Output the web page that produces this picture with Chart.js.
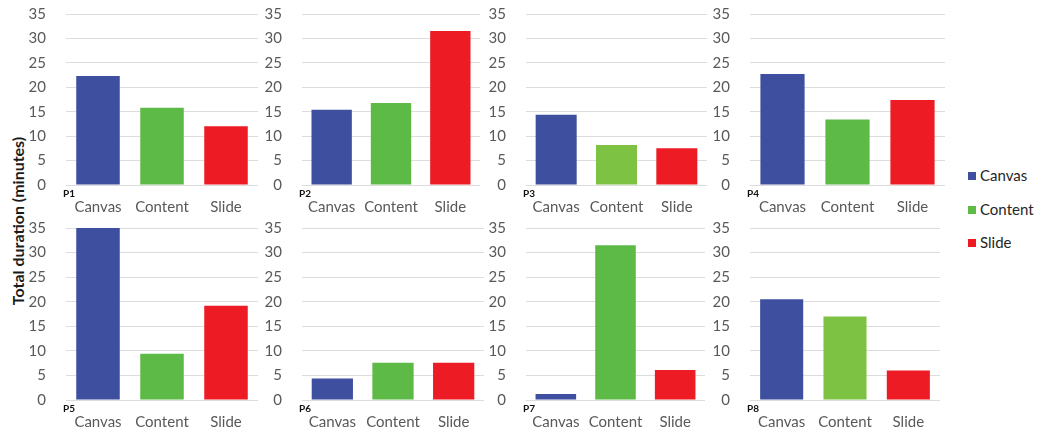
<!DOCTYPE html>
<html>
<head>
<meta charset="utf-8">
<script src="https://cdn.jsdelivr.net/npm/chart.js@4.4.1/dist/chart.umd.min.js"></script>
<style>
  body { margin: 0; background: #fff; }
  #wrap { position: relative; width: 1039px; height: 432px; overflow: hidden; }
  #wrap canvas { position: absolute; left: 0; top: -40px; }
  #ytitle {
    position: absolute; left: 17px; top: 221px;
    transform: translate(-50%, -50%) rotate(-90deg);
    font: bold 16px Lato, sans-serif; color: #1a1a1a; white-space: nowrap;
  }
  .leg { position: absolute; left: 968px; font: 15px Lato, sans-serif; color: #262626; line-height: 18px; }
  .leg span { display: inline-block; width: 8px; height: 8px; margin-right: 4px; vertical-align: 1px; }
</style>
</head>
<body>
<div id="wrap">
  <div id="ytitle">Total duration (minutes)</div>
  <div class="leg" style="top:166px"><span style="background:#3F4FA0"></span>Canvas</div>
  <div class="leg" style="top:200px"><span style="background:#5DBA47"></span>Content</div>
  <div class="leg" style="top:233px"><span style="background:#ED1C24"></span>Slide</div>
</div>
<script>
const categories = ['Canvas', 'Content', 'Slide'];
const participants = ['P1', 'P2', 'P3', 'P4', 'P5', 'P6', 'P7', 'P8'];
const yTicks = [0, 5, 10, 15, 20, 25, 30, 35];

const p1 = [22.3, 15.8, 12.0];
const p2 = [15.4, 16.8, 31.5];
const p3 = [14.4, 8.2, 7.5];
const p4 = [22.7, 13.4, 17.4];
const p5 = [35.0, 9.4, 19.2];
const p6 = [4.4, 7.6, 7.6];
const p7 = [1.2, 31.5, 6.1];
const p8 = [20.5, 17.0, 6.0];
const values = [p1, p2, p3, p4, p5, p6, p7, p8];

// plot area of each panel on the page: [left, right]
const cols = [[66, 258], [302, 480], [526, 707], [750, 945],
              [66, 258], [302, 484], [526, 705], [750, 940]];
const rows = [[14, 185], [228, 400]];

const W = 1039, OFF = 40, H = 432 + 2 * OFF, AXIS_W = 40, AXIS_H = 40;

const panelLabel = {
  id: 'panelLabel',
  afterDraw(chart, args, opts) {
    const { ctx, chartArea } = chart;
    ctx.save();
    ctx.font = 'bold 10px Lato, sans-serif';
    ctx.fillStyle = '#111';
    ctx.textBaseline = 'top';
    ctx.fillText(opts.text, chartArea.left - 3, chartArea.bottom + 4);
    ctx.restore();
  }
};

const wrap = document.getElementById('wrap');

participants.forEach((name, i) => {
  const canvas = document.createElement('canvas');
  canvas.width = W;
  canvas.height = H;
  canvas.style.width = W + 'px';
  canvas.style.height = H + 'px';
  wrap.appendChild(canvas);

  const [left, right] = cols[i];
  const [top, bottom] = rows[i < 4 ? 0 : 1];
  const contentColor = (name === 'P3' || name === 'P8') ? '#7DC243' : '#5DBA47';

  new Chart(canvas, {
    type: 'bar',
    data: {
      labels: categories,
      datasets: [{
        data: values[i],
        backgroundColor: ['#3F4FA0', contentColor, '#ED1C24'],
        categoryPercentage: 1,
        barPercentage: 0.68
      }]
    },
    plugins: [panelLabel],
    options: {
      responsive: false,
      animation: false,
      layout: {
        padding: {
          left: left - AXIS_W,
          right: W - right,
          top: top + OFF,
          bottom: H - (bottom + OFF) - AXIS_H
        }
      },
      scales: {
        x: {
          grid: { display: false, drawTicks: false },
          border: { display: false },
          ticks: { color: '#595959', font: { family: 'Lato', size: 15 }, padding: 13, maxRotation: 0 },
          afterFit: (s) => { s.height = AXIS_H; }
        },
        y: {
          min: 0,
          max: 35,
          afterBuildTicks: (s) => { s.ticks = yTicks.map(v => ({ value: v })); },
          grid: { color: '#dcdcdc', drawTicks: false },
          border: { display: false },
          ticks: { color: '#595959', font: { family: 'Lato', size: 15 }, padding: 20 },
          afterFit: (s) => { s.width = AXIS_W; }
        }
      },
      plugins: {
        legend: { display: false },
        tooltip: { enabled: false },
        panelLabel: { text: name }
      }
    }
  });
});
</script>
</body>
</html>
